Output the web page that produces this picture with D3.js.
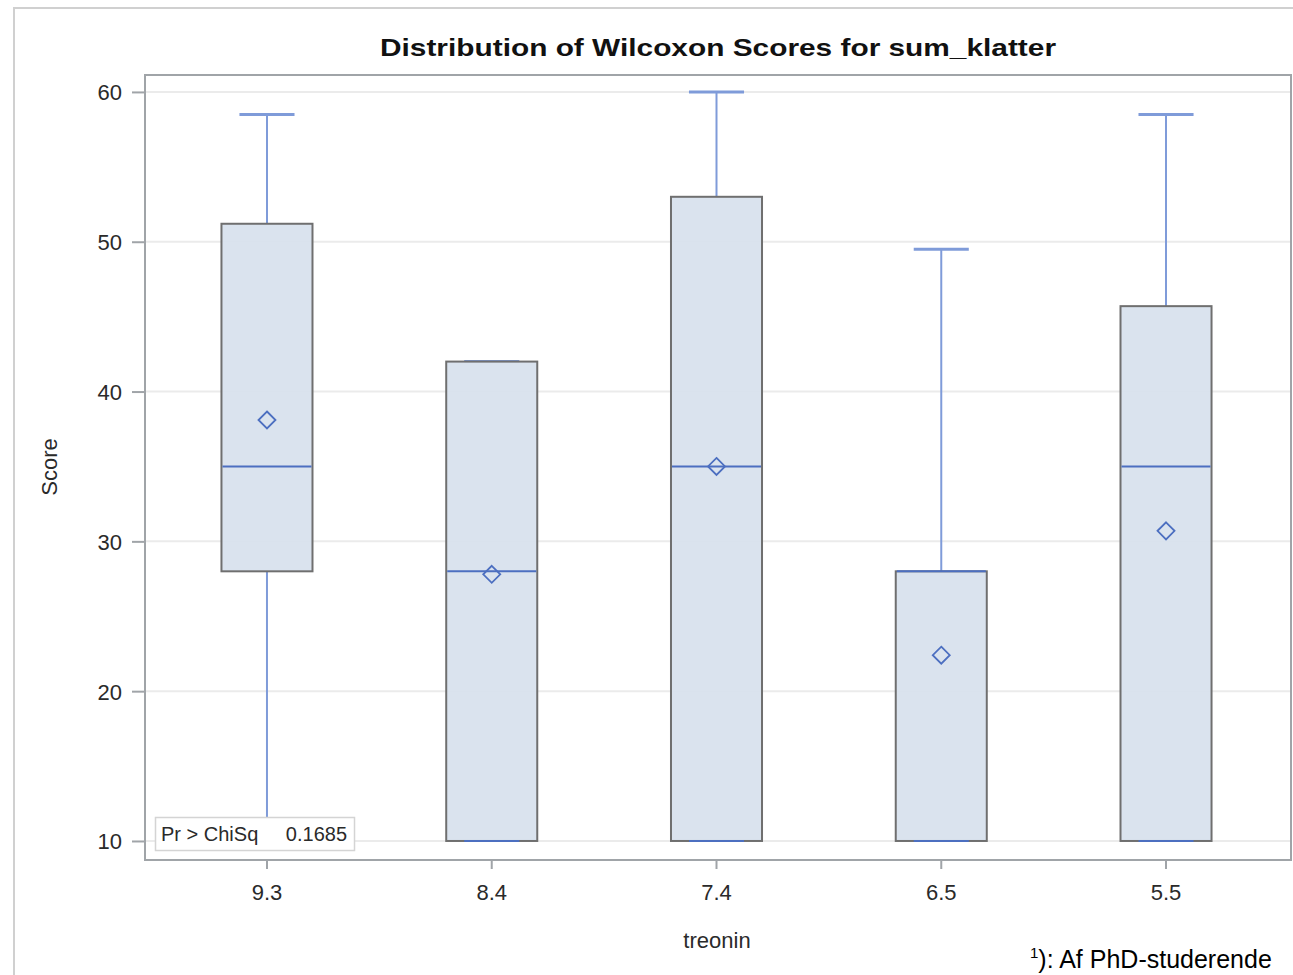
<!DOCTYPE html>
<html>
<head>
<meta charset="utf-8">
<script src="https://cdnjs.cloudflare.com/ajax/libs/d3/7.8.5/d3.min.js"></script>
<style>
  body { margin: 0; background: #fff; }
  svg { display: block; }
</style>
</head>
<body>
<div id="chart"></div>
<script>
// values
var groups = ["9.3", "8.4", "7.4", "6.5", "5.5"];
var whiskerLow = [10, 10, 10, 10, 10];
var q1 = [28, 10, 10, 10, 10];
var median = [35, 28, 35, 28, 35];
var q3 = [51.2, 42, 53, 28, 45.7];
var whiskerHigh = [58.5, 42, 60, 49.5, 58.5];
var means = [38.1, 27.8, 35, 22.4, 30.7];
var yTicks = [10, 20, 30, 40, 50, 60];

var width = 1293, height = 975;
var plot = { left: 145, right: 1291, top: 75, bottom: 860 };
var font = "'Liberation Sans', Arial, sans-serif";

var svg = d3.select("#chart").append("svg")
    .attr("width", width)
    .attr("height", height);

// outer frame of the graph
svg.append("path")
    .attr("d", "M14,975 V8 H1293")
    .attr("fill", "none")
    .attr("stroke", "#d0d0d0")
    .attr("stroke-width", 2);

var y = d3.scaleLinear()
    .domain([8.73, 61.13])
    .range([plot.bottom, plot.top]);

var x = d3.scaleBand()
    .domain(groups)
    .range([154.6, 1278.4])
    .paddingInner(0);

var cx = function (g) { return x(g) + x.bandwidth() / 2; };
var boxW = x.bandwidth() * 0.405;
var capW = x.bandwidth() * 0.245;

// grid lines
svg.append("g").selectAll("line")
    .data(yTicks).enter()
    .append("line")
    .attr("x1", plot.left + 1)
    .attr("x2", plot.right - 1)
    .attr("y1", d => y(d))
    .attr("y2", d => y(d))
    .attr("stroke", "#ebebeb")
    .attr("stroke-width", 2);

var data = groups.map((g, i) => ({
    g: g, lo: whiskerLow[i], q1: q1[i], med: median[i], q3: q3[i], hi: whiskerHigh[i], mean: means[i]
}));

var box = svg.append("g").selectAll("g")
    .data(data).enter()
    .append("g");

var whiskerColor = "#7f9bd9";
var blue = "#4c6fc0";

// whiskers
box.append("line")
    .attr("x1", d => cx(d.g)).attr("x2", d => cx(d.g))
    .attr("y1", d => y(d.q3)).attr("y2", d => y(d.hi))
    .attr("stroke", whiskerColor).attr("stroke-width", 2);
box.append("line")
    .attr("x1", d => cx(d.g)).attr("x2", d => cx(d.g))
    .attr("y1", d => y(d.q1)).attr("y2", d => y(d.lo))
    .attr("stroke", whiskerColor).attr("stroke-width", 2);
box.append("line")
    .attr("x1", d => cx(d.g) - capW / 2).attr("x2", d => cx(d.g) + capW / 2)
    .attr("y1", d => y(d.hi)).attr("y2", d => y(d.hi))
    .attr("stroke", whiskerColor).attr("stroke-width", 3);

// boxes
box.append("rect")
    .attr("x", d => cx(d.g) - boxW / 2)
    .attr("width", boxW)
    .attr("y", d => y(d.q3))
    .attr("height", d => y(d.q1) - y(d.q3))
    .attr("fill", "#d8e1ed")
    .attr("fill-opacity", 0.95)
    .attr("stroke", "#6f6f6f")
    .attr("stroke-width", 2);

// lower cap drawn over the box edge
box.append("line")
    .attr("x1", d => cx(d.g) - capW / 2).attr("x2", d => cx(d.g) + capW / 2)
    .attr("y1", d => y(d.lo)).attr("y2", d => y(d.lo))
    .attr("stroke", blue).attr("stroke-width", 2);

// median
box.append("line")
    .attr("x1", d => cx(d.g) - boxW / 2 + 1).attr("x2", d => cx(d.g) + boxW / 2 - 1)
    .attr("y1", d => y(d.med)).attr("y2", d => y(d.med))
    .attr("stroke", blue).attr("stroke-width", 2);

// mean diamond
box.append("path")
    .attr("d", d => {
        var px = cx(d.g), py = y(d.mean), r = 8.5;
        return "M" + px + "," + (py - r) + "L" + (px + r) + "," + py + "L" + px + "," + (py + r) + "L" + (px - r) + "," + py + "Z";
    })
    .attr("fill", "none")
    .attr("stroke", blue)
    .attr("stroke-width", 1.8);

// plot frame
svg.append("rect")
    .attr("x", plot.left)
    .attr("y", plot.top)
    .attr("width", plot.right - plot.left)
    .attr("height", plot.bottom - plot.top)
    .attr("fill", "none")
    .attr("stroke", "#a0a4a8")
    .attr("stroke-width", 2);

// axes
var leftAxis = d3.axisLeft(y).tickValues(yTicks).tickSize(12).tickPadding(10);
var bottomAxis = d3.axisBottom(x).tickSize(8).tickPadding(15);

var gy = svg.append("g")
    .attr("transform", `translate(${plot.left - 1},0)`)
    .call(leftAxis);
var gx = svg.append("g")
    .attr("transform", `translate(0,${plot.bottom + 1})`)
    .call(bottomAxis);

[gy, gx].forEach(function (g) {
    g.select(".domain").remove();
    g.selectAll(".tick line").attr("stroke", "#a0a4a8").attr("stroke-width", 2);
    g.selectAll(".tick text")
        .style("font-family", font)
        .style("font-size", "22px")
        .style("fill", "#2a2a2a");
});
gy.selectAll(".tick text").attr("dy", "0.36em");

// title
svg.append("text")
    .attr("x", 718)
    .attr("y", 56)
    .attr("text-anchor", "middle")
    .attr("textLength", 676)
    .attr("lengthAdjust", "spacingAndGlyphs")
    .style("font-family", font)
    .style("font-weight", "bold")
    .style("font-size", "24px")
    .style("fill", "#111")
    .text("Distribution of Wilcoxon Scores for sum_klatter");

// axis labels
svg.append("text")
    .attr("transform", "translate(57,467) rotate(-90)")
    .attr("text-anchor", "middle")
    .style("font-family", font)
    .style("font-size", "22px")
    .style("fill", "#2a2a2a")
    .text("Score");

svg.append("text")
    .attr("x", 717)
    .attr("y", 948)
    .attr("text-anchor", "middle")
    .style("font-family", font)
    .style("font-size", "22px")
    .style("fill", "#2a2a2a")
    .text("treonin");

// inset statistic
var inset = svg.append("g");
inset.append("rect")
    .attr("x", 155.5).attr("y", 817.5)
    .attr("width", 199).attr("height", 33)
    .attr("fill", "#fff")
    .attr("stroke", "#d4d4d4")
    .attr("stroke-width", 1.5);
inset.append("text")
    .attr("x", 161).attr("y", 841)
    .style("font-family", font)
    .style("font-size", "20px")
    .style("fill", "#2a2a2a")
    .text("Pr > ChiSq");
inset.append("text")
    .attr("x", 347).attr("y", 841)
    .attr("text-anchor", "end")
    .style("font-family", font)
    .style("font-size", "20px")
    .style("fill", "#2a2a2a")
    .text("0.1685");

// footnote from the surrounding document
var foot = svg.append("text")
    .attr("x", 1030).attr("y", 968)
    .style("font-family", font)
    .style("font-size", "25px")
    .style("fill", "#000");
foot.append("tspan").attr("dy", "-10").style("font-size", "15px").text("1");
foot.append("tspan").attr("dy", "10").text("): Af PhD-studerende");
</script>
</body>
</html>
